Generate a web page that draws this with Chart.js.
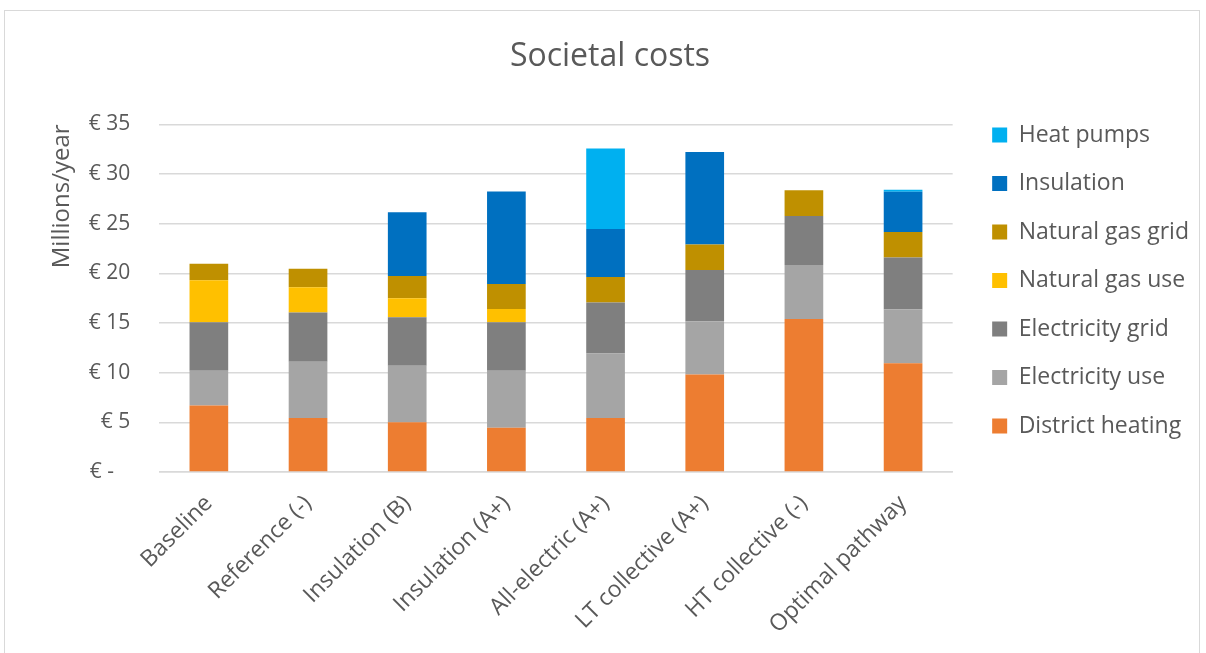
<!DOCTYPE html>
<html>
<head>
<meta charset="utf-8">
<script src="https://cdn.jsdelivr.net/npm/chart.js@4/dist/chart.umd.min.js"></script>
<style>
  html, body { margin: 0; padding: 0; background: #fff; }
  #wrap { position: relative; width: 1206px; height: 653px; }
  #frame { position: absolute; left: 4px; top: 10px; width: 1196px; height: 660px; border: 1px solid #d9d9d9; box-sizing: border-box; }
  canvas { position: absolute; left: 0; top: 0; }
</style>
</head>
<body>
<div id="wrap">
  <div id="frame"></div>
  <canvas id="chart" width="1206" height="653"></canvas>
</div>
<script>
const categories = ['Baseline', 'Reference (-)', 'Insulation (B)', 'Insulation (A+)', 'All-electric (A+)', 'LT collective (A+)', 'HT collective (-)', 'Optimal pathway']
const districtHeating = [6.70, 5.44, 5.00, 4.46, 5.44, 9.83, 15.41, 10.95]
const electricityUse = [3.50, 5.67, 5.71, 5.74, 6.49, 5.34, 5.43, 5.44]
const electricityGrid = [4.87, 4.94, 4.86, 4.87, 5.13, 5.17, 4.94, 5.20]
const naturalGasUse = [4.25, 2.56, 1.93, 1.35, 0, 0, 0, 0]
const naturalGasGrid = [1.66, 1.86, 2.23, 2.50, 2.57, 2.57, 2.60, 2.57]
const insulation = [0, 0, 6.42, 9.32, 4.83, 9.32, 0, 4.05]
const heatPumps = [0, 0, 0, 0, 8.11, 0, 0, 0.20]
const yTicks = [0, 5, 10, 15, 20, 25, 30, 35]

const textColor = '#595959'
const font = '"Open Sans", "Noto Sans", sans-serif'

const series = [
  ['District heating', districtHeating, '#ED7D31'],
  ['Electricity use', electricityUse, '#A5A5A5'],
  ['Electricity grid', electricityGrid, '#7F7F7F'],
  ['Natural gas use', naturalGasUse, '#FFC000'],
  ['Natural gas grid', naturalGasGrid, '#BF9000'],
  ['Insulation', insulation, '#0070C0'],
  ['Heat pumps', heatPumps, '#00B0F0']
]

// the legend box spans the full canvas height; move it down level with the top gridline
// and a little to the right of the plot
const legendShift = {
  id: 'legendShift',
  afterLayout(chart) {
    const l = chart.legend
    l.left += 14
    l.right += 14
    l.top += 98
    l.bottom += 98
  }
}

new Chart(document.getElementById('chart'), {
  type: 'bar',
  data: {
    labels: categories,
    datasets: series.map(([label, data, color]) => ({
      label: label,
      data: data,
      backgroundColor: color,
      borderWidth: 0,
      barPercentage: 0.39,
      categoryPercentage: 1
    }))
  },
  plugins: [legendShift],
  options: {
    responsive: false,
    animation: false,
    layout: { padding: { left: 35, right: 21, top: 0, bottom: 4 } },
    plugins: {
      title: {
        display: true,
        text: 'Societal costs',
        color: textColor,
        font: { family: font, size: 32, weight: 'normal' },
        padding: { top: 38, bottom: 48 }
      },
      legend: {
        position: 'right',
        align: 'start',
        reverse: true,
        labels: {
          color: textColor,
          font: { family: font, size: 23 },
          boxWidth: 15,
          boxHeight: 15,
          padding: 25.5
        }
      },
      tooltip: { enabled: false }
    },
    scales: {
      x: {
        stacked: true,
        grid: { display: false },
        border: { display: true, color: '#d9d9d9', width: 1.5 },
        ticks: {
          color: textColor,
          font: { family: font, size: 23 },
          minRotation: 45,
          maxRotation: 45,
          padding: 10
        }
      },
      y: {
        stacked: true,
        min: 0,
        max: 35,
        afterBuildTicks: axis => { axis.ticks = yTicks.map(v => ({ value: v })) },
        grid: { color: '#d9d9d9', lineWidth: 1.5, drawTicks: false },
        border: { display: false },
        title: {
          display: true,
          text: 'Millions/year',
          align: 'end',
          color: textColor,
          font: { family: font, size: 24 },
          padding: { top: 13, bottom: -17 }
        },
        ticks: {
          color: textColor,
          font: { family: font, size: 21 },
          padding: 29,
          callback: v => v === 0 ? '€ -   ' : '€ ' + v
        }
      }
    }
  }
})
</script>
</body>
</html>
